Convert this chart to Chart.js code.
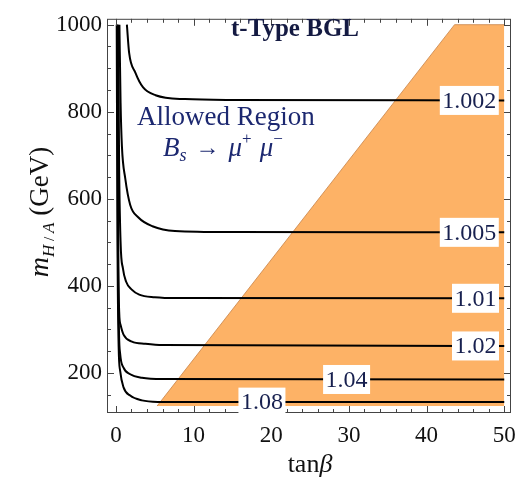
<!DOCTYPE html>
<html><head><meta charset="utf-8">
<script src="https://cdn.jsdelivr.net/npm/chart.js@4/dist/chart.umd.min.js"></script>
<style>html,body{margin:0;padding:0;background:#fff;}</style>
</head><body>
<canvas id="c" width="530" height="481"></canvas>
<script>
// ---- data ----
const contourLevels = ['1.002', '1.005', '1.01', '1.02', '1.04', '1.08'];

const tanb1002 = [1.41, 1.7, 2.5, 3.5, 5.1, 8.9, 15, 50];
const mass1002 = [1000, 935, 890, 856, 838, 829, 827, 826];

const tanb1005 = [0.45, 0.6, 0.77, 1.2, 1.84, 2.9, 4.7, 7.6, 15, 50];
const mass1005 = [1000, 820, 721, 647, 586, 557, 537, 526, 523.5, 523];

const tanb101 = [0.3, 0.4, 0.6, 0.9, 1.3, 2.0, 3.0, 5.0, 8.0, 50];
const mass101 = [1000, 700, 500, 440, 410, 392, 380, 374, 372, 371.5];

const tanb102 = [0.2, 0.3, 0.42, 0.6, 0.98, 2.06, 3.8, 6, 50];
const mass102 = [1000, 500, 340, 310, 288, 272, 267, 264, 262];

const tanb104 = [0.15, 0.25, 0.4, 0.55, 0.98, 1.84, 3.35, 6, 50];
const mass104 = [1000, 500, 290, 243, 212, 197, 189, 186, 185];

const tanb108 = [0.1, 0.2, 0.35, 0.55, 0.98, 1.84, 3.35, 5.4, 10, 50];
const mass108 = [1000, 500, 260, 204, 167, 148, 137, 133.5, 133, 133];

const regionTanb = [5.3, 43.6, 50];
const regionMass = [124, 1000, 1000];
const regionBase = 124;

const labelTanb = [45.5, 45.5, 46.3, 46.3, 29.7, 18.8];
const labelMass = [826, 523, 371.5, 262, 185, 133];

const xMajorTicks = [0, 10, 20, 30, 40, 50];
const xMinorTicks = [2, 4, 6, 8, 12, 14, 16, 18, 22, 24, 26, 28, 32, 34, 36, 38, 42, 44, 46, 48];
const yMajorTicks = [200, 400, 600, 800, 1000];
const yMinorTicks = [150, 250, 300, 350, 450, 500, 550, 650, 700, 750, 850, 900, 950];

// ---- build datasets ----
const curveX = [tanb1002, tanb1005, tanb101, tanb102, tanb104, tanb108];
const curveY = [mass1002, mass1005, mass101, mass102, mass104, mass108];
const toPts = (xs, ys) => xs.map((x, i) => ({x: x, y: ys[i]}));

const datasets = [{
  label: 'excluded',
  data: toPts(regionTanb, regionMass),
  borderColor: 'rgba(200,130,70,0.8)',
  borderWidth: 1,
  backgroundColor: '#FDB266',
  pointRadius: 0,
  tension: 0,
  fill: {value: regionBase},
  order: 10
}];
contourLevels.forEach((lv, i) => {
  datasets.push({
    label: lv,
    data: toPts(curveX[i], curveY[i]),
    borderColor: '#000',
    borderWidth: 2,
    pointRadius: 0,
    fill: false,
    cubicInterpolationMode: 'monotone',
    order: 1
  });
});

const SERIF = '"Liberation Serif", "DejaVu Serif", serif';
const NAVY = '#17204f';

const decor = {
  id: 'decor',
  afterDatasetsDraw(chart) {
    const {ctx, chartArea: a, scales: {x, y}} = chart;
    ctx.save();
    // frame
    ctx.strokeStyle = '#444';
    ctx.lineWidth = 1;
    ctx.strokeRect(a.left + 0.5, a.top + 0.5, a.right - a.left - 1, a.bottom - a.top - 1);
    // inward ticks on all 4 sides
    const tickX = (v, len) => {
      const px = Math.round(x.getPixelForValue(v)) + 0.5;
      ctx.beginPath();
      ctx.moveTo(px, a.bottom); ctx.lineTo(px, a.bottom - len);
      ctx.moveTo(px, a.top); ctx.lineTo(px, a.top + len);
      ctx.stroke();
    };
    const tickY = (v, len) => {
      const py = Math.round(y.getPixelForValue(v)) + 0.5;
      ctx.beginPath();
      ctx.moveTo(a.left, py); ctx.lineTo(a.left + len, py);
      ctx.moveTo(a.right, py); ctx.lineTo(a.right - len, py);
      ctx.stroke();
    };
    xMajorTicks.forEach(v => tickX(v, 7));
    xMinorTicks.forEach(v => tickX(v, 4));
    yMajorTicks.forEach(v => tickY(v, 7));
    yMinorTicks.forEach(v => tickY(v, 4));

    // contour labels
    ctx.font = '24px ' + SERIF;
    ctx.textAlign = 'center';
    ctx.textBaseline = 'middle';
    contourLevels.forEach((lv, i) => {
      const px = x.getPixelForValue(labelTanb[i]);
      const py = y.getPixelForValue(labelMass[i]);
      const w = ctx.measureText(lv).width + 5;
      const h = 29;
      ctx.fillStyle = '#fff';
      ctx.fillRect(px - w / 2, py - h / 2, w, h);
      ctx.fillStyle = NAVY;
      ctx.fillText(lv, px, py + 1);
    });

    // title inside plot
    ctx.fillStyle = '#141a42';
    ctx.font = 'bold 25px ' + SERIF;
    ctx.textAlign = 'left';
    ctx.textBaseline = 'alphabetic';
    ctx.fillText('t-Type BGL', 231, 36);

    // Allowed region text
    ctx.fillStyle = '#1c2870';
    ctx.font = '27px ' + SERIF;
    ctx.fillText('Allowed Region', 137, 125);
    let cx = 163;
    const base = 156;
    ctx.font = 'italic 27px ' + SERIF;
    ctx.fillText('B', cx, base); cx += ctx.measureText('B').width;
    ctx.font = 'italic 18px ' + SERIF;
    ctx.fillText('s', cx, base + 5); cx += ctx.measureText('s').width + 9;
    ctx.font = '24px ' + SERIF;
    ctx.fillText('\u2192', cx, base - 1); cx += ctx.measureText('\u2192').width + 9;
    ctx.font = 'italic 27px ' + SERIF;
    ctx.fillText('\u03bc', cx, base); cx += ctx.measureText('\u03bc').width;
    ctx.font = '17px ' + SERIF;
    ctx.fillText('+', cx, base - 12); cx += ctx.measureText('+').width + 8;
    ctx.font = 'italic 27px ' + SERIF;
    ctx.fillText('\u03bc', cx, base); cx += ctx.measureText('\u03bc').width;
    ctx.font = '17px ' + SERIF;
    ctx.fillText('\u2212', cx, base - 12);
    ctx.restore();
  },
  afterDraw(chart) {
    const {ctx} = chart;
    ctx.save();
    ctx.fillStyle = '#111';
    ctx.textBaseline = 'alphabetic';
    // x title: tan beta
    const t1 = 'tan';
    ctx.font = 'italic 26px ' + SERIF;
    const wb = ctx.measureText('\u03b2').width;
    ctx.font = '26px ' + SERIF;
    const wt = ctx.measureText(t1).width;
    let sx = 310 - (wt + wb) / 2;
    ctx.fillText(t1, sx, 472);
    ctx.font = 'italic 26px ' + SERIF;
    ctx.fillText('\u03b2', sx + wt, 472);

    // y title: m_{H/A} (GeV), rotated
    ctx.translate(48, 212);
    ctx.rotate(-Math.PI / 2);
    const parts = [
      {t: 'm', f: 'italic 28px ', dy: 0},
      {t: 'H', f: 'italic 17px ', dy: 6},
      {t: ' / ', f: '15px ', dy: 6},
      {t: 'A', f: 'italic 17px ', dy: 6},
      {t: ' (GeV)', f: '27px ', dy: 0}
    ];
    let total = 0;
    parts.forEach(p => { ctx.font = p.f + SERIF; p.w = ctx.measureText(p.t).width; total += p.w; });
    let px = -total / 2;
    parts.forEach(p => { ctx.font = p.f + SERIF; ctx.fillText(p.t, px, p.dy); px += p.w; });
    ctx.restore();
  }
};

new Chart(document.getElementById('c'), {
  type: 'line',
  data: {datasets: datasets},
  options: {
    responsive: false,
    animation: false,
    layout: {padding: {left: 0, right: 19, top: 10, bottom: 0}},
    plugins: {legend: {display: false}, tooltip: {enabled: false}, title: {display: false}},
    scales: {
      x: {
        type: 'linear', min: -1.15, max: 50.87,
        grid: {display: false, drawTicks: false},
        border: {display: false},
        afterBuildTicks: s => { s.ticks = xMajorTicks.map(v => ({value: v})); },
        afterFit: s => { s.height = 68; },
        ticks: {padding: 9, color: '#111', font: {family: SERIF, size: 23}, maxRotation: 0,
                callback: v => String(v)}
      },
      y: {
        type: 'linear', min: 108, max: 1013.5,
        grid: {display: false, drawTicks: false},
        border: {display: false},
        afterBuildTicks: s => { s.ticks = yMajorTicks.map(v => ({value: v})); },
        afterFit: s => { s.width = 107; },
        ticks: {padding: 5, color: '#111', font: {family: SERIF, size: 23},
                callback: v => String(v)}
      }
    }
  },
  plugins: [decor]
});
</script>
</body></html>
